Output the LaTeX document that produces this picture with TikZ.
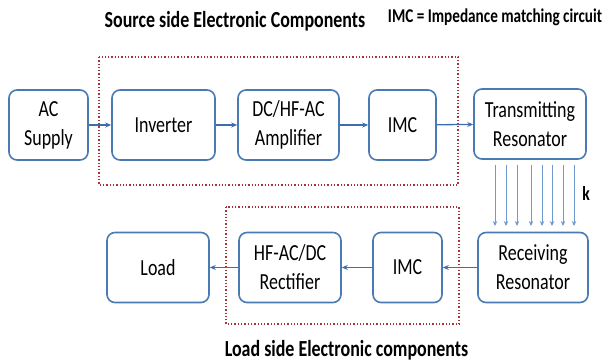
\documentclass[tikz,border=0pt]{standalone}
\usepackage{fontspec}
\setmainfont{Carlito}[FakeStretch=0.78]
\usepackage{xcolor}
\usetikzlibrary{arrows.meta,calc}

\definecolor{boxblue}{HTML}{4A7AB4}
\definecolor{flowblue}{HTML}{3C6EAE}
\definecolor{fieldblue}{HTML}{6F9AD0}
\definecolor{frame red}{HTML}{A8323A}

\tikzset{
	block/.style={draw=boxblue, line width=1.6pt, rounded corners=8pt, minimum height=70pt, align=center, inner sep=0pt, font=\fontsize{23}{29}\selectfont},
	flow/.style={draw=flowblue, line width=1.3pt, -{Stealth[length=6pt,width=5pt]}},
	field/.style={draw=fieldblue, line width=0.9pt, -{Stealth[length=5pt,width=4.5pt]}},
	sidebox/.style={draw=frame red, line width=1.3pt, dotted},
	caption/.style={font=\bfseries\fontsize{23}{26}\selectfont}
}

\begin{document}
\begin{tikzpicture}[x=1pt,y=-1pt]
				\useasboundingbox (0,0) rectangle (608,363);
				% dotted frames
				\draw[sidebox] (99,57) rectangle (458,185);
				\draw[sidebox] (226,207) rectangle (459,324);
				% source side
				\node[block, minimum width=79pt] (ac) at (48.5,125) {AC\\Supply};
				\node[block, minimum width=103pt] (inv) at (163.5,125) {Inverter};
				\node[block, minimum width=101pt] (amp) at (288.5,125) {DC/HF-AC\\Amplifier};
				\node[block, minimum width=67pt] (imcA) at (402.5,125) {IMC};
				\node[block, minimum width=112pt] (tx) at (530,124) {Transmitting\\Resonator};
				% load side
				\node[block, minimum width=102pt] (load) at (158,267.5) {Load};
				\node[block, minimum width=102pt] (rect) at (290,267.5) {HF-AC/DC\\Rectifier};
				\node[block, minimum width=69pt] (imcB) at (407.5,267.5) {IMC};
				\node[block, minimum width=110pt] (rx) at (533,267.5) {Receiving\\Resonator};
				\draw[flow] (ac) -- (inv);
				\draw[flow] (inv) -- (amp);
				\draw[flow] (amp) -- (imcA);
				\draw[flow] (imcA) -- (tx);
				\draw[flow] (rx) -- (imcB);
				\draw[flow] (imcB) -- (rect);
				\draw[flow] (rect) -- (load);
				% coupling
				\foreach \x in {495,506,517,531,542,552,563,574}
					\draw[field] (\x,165) -- (\x,226);
				\node[font=\bfseries\fontsize{20}{24}\selectfont] (k) at (586,193) {k};
				% captions
				\node[caption] (srctitle) at (235,21) {Source side Electronic Components};
				\node[caption, font=\bfseries\fontsize{19.5}{22}\selectfont] (legend) at (495,17) {IMC = Impedance matching circuit};
				\node[caption] (loadtitle) at (346.5,350) {Load side Electronic components};
			\end{tikzpicture}
\end{document}
